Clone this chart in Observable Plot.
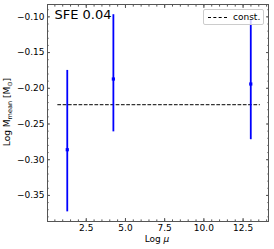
<!DOCTYPE html>
<html>
<head>
<meta charset="utf-8">
<script src="https://cdn.jsdelivr.net/npm/d3@7"></script>
<script src="https://cdn.jsdelivr.net/npm/@observablehq/plot@0.6"></script>
<style>
  body { margin: 0; background: #fff; font-family: "DejaVu Sans", sans-serif; }
  #wrap { position: relative; width: 274px; height: 249px; }
  .ylab { position: absolute; left: 8px; top: 112px; transform: translate(-50%, -50%) rotate(-90deg); font-size: 9px; white-space: nowrap; color: #000; }
  .xlab { position: absolute; left: 157px; top: 239px; transform: translate(-50%, -50%); font-size: 9px; white-space: nowrap; color: #000; }
  .legend { position: absolute; left: 203px; top: 9px; width: 61px; height: 16px; background: rgba(255,255,255,0.8); border: 1px solid #ccc; border-radius: 2px; box-sizing: border-box; font-size: 9px; }
  .legend .line { position: absolute; left: 4px; top: 7px; width: 19px; border-top: 1px dashed #000; }
  .legend .lbl { position: absolute; left: 29px; top: 1.5px; line-height: 11px; }
</style>
</head>
<body>
<div id="wrap"></div>
<script>
// Data
const logMu      = [1.29, 4.23, 12.99];
const logMmean   = [-0.286, -0.187, -0.194];
const errLow     = [-0.373, -0.261, -0.272];
const errHigh    = [-0.175, -0.097, -0.104];
const constValue = [-0.223];
const constXRange = [0.69, 13.6];
const title = "SFE 0.04";
const xMajor = [2.5, 5.0, 7.5, 10.0, 12.5];
const xMinor = d3.range(0.5, 14.01, 0.5);
const yMajor = [-0.35, -0.30, -0.25, -0.20, -0.15, -0.10];
const yMinor = d3.range(-38, -8).map(v => v / 100);
const xDomain = [0.03, 14.12];
const yDomain = [-0.3865, -0.0827];

const pts = logMu.map((x, i) => ({x, y: logMmean[i], lo: errLow[i], hi: errHigh[i]}));
const fmt2 = d => d3.format(".2f")(d).replace("-", "\u2212");
const fmt1 = d => d3.format(".1f")(d);
const axisColor = "#555";

const plot = Plot.plot({
  width: 274,
  height: 249,
  marginLeft: 47,
  marginRight: 6,
  marginTop: 4,
  marginBottom: 28,
  style: {fontFamily: "DejaVu Sans, sans-serif", fontSize: "9px", color: "#000", background: "#fff"},
  x: {domain: xDomain},
  y: {domain: yDomain},
  marks: [
    // major ticks
    Plot.axisX(xMajor, {anchor: "bottom", tickSize: -3, tickPadding: 6, tickFormat: fmt1, label: null, stroke: axisColor, fill: "#000", fontSize: 9}),
    Plot.axisX(xMajor, {anchor: "top", tickSize: -3, tickFormat: () => "", label: null, stroke: axisColor}),
    Plot.axisY(yMajor, {anchor: "left", tickSize: -3, tickPadding: 6, tickFormat: fmt2, label: null, stroke: axisColor, fill: "#000", fontSize: 9}),
    Plot.axisY(yMajor, {anchor: "right", tickSize: -3, tickFormat: () => "", label: null, stroke: axisColor}),
    // minor ticks
    Plot.axisX(xMinor, {anchor: "bottom", tickSize: -1.6, tickFormat: () => "", label: null, stroke: axisColor}),
    Plot.axisX(xMinor, {anchor: "top", tickSize: -1.6, tickFormat: () => "", label: null, stroke: axisColor}),
    Plot.axisY(yMinor, {anchor: "left", tickSize: -1.6, tickFormat: () => "", label: null, stroke: axisColor}),
    Plot.axisY(yMinor, {anchor: "right", tickSize: -1.6, tickFormat: () => "", label: null, stroke: axisColor}),
    // constant line
    Plot.ruleY(constValue, {x1: constXRange[0], x2: constXRange[1], stroke: "#000", strokeWidth: 1, strokeDasharray: "3.7,1.6"}),
    // error bars
    Plot.ruleX(pts, {x: "x", y1: "lo", y2: "hi", stroke: "#0000ff", strokeWidth: 1.8}),
    Plot.dot(pts, {x: "x", y: "y", r: 1.8, fill: "#0000ff", symbol: "square"}),
    // title
    Plot.text([title], {frameAnchor: "top-left", dx: 7, dy: 5, text: d => d, fontSize: 13, textAnchor: "start", lineAnchor: "top", fill: "#000"}),
    Plot.frame({stroke: axisColor, strokeWidth: 1})
  ]
});

const wrap = document.getElementById("wrap");
wrap.appendChild(plot);
wrap.insertAdjacentHTML("beforeend",
  '<div class="ylab">Log M<sub style="font-size:6.5px">mean</sub> [M<sub style="font-size:6.5px">\u2299</sub>]</div>' +
  '<div class="xlab">Log <i>\u03bc</i></div>' +
  '<div class="legend"><div class="line"></div><div class="lbl">const.</div></div>');
</script>
</body>
</html>
